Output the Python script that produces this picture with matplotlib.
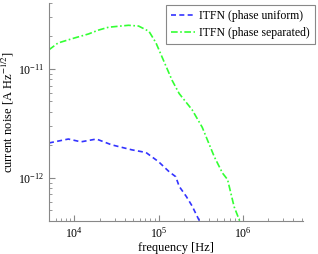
import matplotlib
matplotlib.use('Agg')
import matplotlib.pyplot as plt

# frequency [Hz] and current noise [A Hz^-1/2]
f_uniform = [5e3, 8.5e3, 1.2e4, 1.83e4, 2.77e4, 4.8e4, 7.1e4, 1.0e5,
             1.34e5, 1.6e5, 1.76e5, 2.14e5, 2.5e5, 3.06e5]
n_uniform = [2.08e-12, 2.26e-12, 2.13e-12, 2.26e-12, 2.0e-12, 1.8e-12, 1.7e-12, 1.4e-12,
             1.13e-12, 1.02e-12, 8.3e-13, 6.7e-13, 5.5e-13, 4.0e-13]

f_separated = [5e3, 6.4e3, 1e4, 1.47e4, 1.94e4, 2.55e4, 4.4e4, 5.8e4, 7.7e4, 9.3e4,
               1.45e5, 1.76e5, 2.5e5, 3.3e5, 4.6e5, 5.75e5, 6.6e5, 7.9e5, 9.2e5]
n_separated = [1.49e-11, 1.72e-11, 1.91e-11, 2.08e-11, 2.26e-11, 2.4e-11, 2.5e-11, 2.46e-11,
               2.2e-11, 1.73e-11, 7.8e-12, 5.9e-12, 4.2e-12, 2.9e-12, 1.55e-12, 1.1e-12,
               9.6e-13, 5.4e-13, 4.0e-13]

plt.rcParams['font.family'] = ['Liberation Serif', 'DejaVu Serif']
plt.rcParams['mathtext.fontset'] = 'stix'

fig = plt.figure(figsize=(3.18, 2.54), dpi=100)
ax = fig.add_axes([0.154, 0.130, 0.799, 0.858])

ax.loglog(f_uniform, n_uniform, color='#3333ff', ls=(0, (3, 2)), lw=1.2,
          label='ITFN (phase uniform)')
ax.loglog(f_separated, n_separated, color='#33ff33', ls=(0, (4, 1.5, 1, 1.5)), lw=1.2,
          label='ITFN (phase separated)')

ax.set_xlim(5e3, 5.2e6)
ax.set_ylim(4e-13, 4e-11)
ax.spines['top'].set_visible(False)
ax.spines['right'].set_visible(False)
for s in ('left', 'bottom'):
    ax.spines[s].set_color('#888888')
    ax.spines[s].set_linewidth(0.8)
ax.tick_params(which='both', direction='in', colors='#888888', labelcolor='black',
               labelsize=8.5, top=False, right=False)
ax.tick_params(which='major', length=4)
ax.tick_params(which='minor', length=2)

ax.set_xlabel('frequency [Hz]', fontsize=9, labelpad=1)
ax.set_ylabel(r'current noise [A Hz$^{-1/2}$]', fontsize=9, labelpad=1)

leg = ax.legend(loc='upper right', bbox_to_anchor=(1.05, 0.995), fontsize=8.5,
                fancybox=False, framealpha=1, edgecolor='#888888',
                handlelength=2.0, handletextpad=0.4, borderpad=0.4, labelspacing=0.45,
                borderaxespad=0.1)
leg.get_frame().set_linewidth(0.8)

fig.savefig('out.png', dpi=100)
